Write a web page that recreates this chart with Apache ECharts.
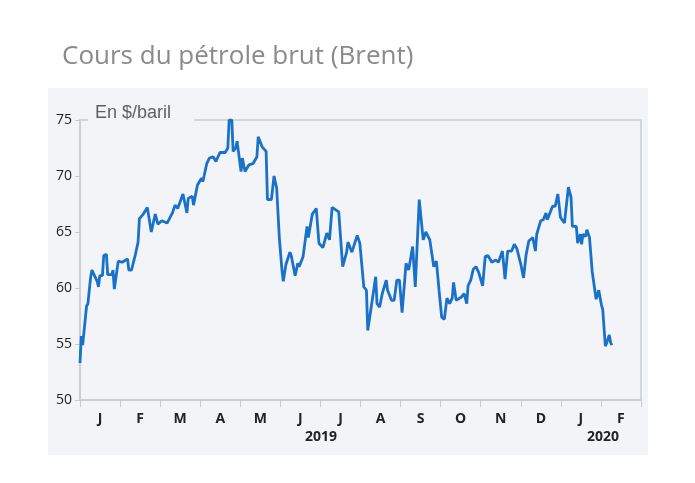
<!DOCTYPE html>
<html><head><meta charset="utf-8">
<script src="https://cdn.jsdelivr.net/npm/echarts@6/dist/echarts.min.js"></script>
<style>html,body{margin:0;padding:0;background:#fff}#c{width:695px;height:483px}</style>
</head><body><div id="c"></div>
<script>
var monthLabels = ['J','F','M','A','M','J','J','A','S','O','N','D','J','F'];
var yearLabels = ['2019','2020'];
// days since 2019-01-01
var days = [0,1,2,5,6,8,9,13,14,15,17,18,20,21,24,25,26,28,29,32,36,37,39,42,44,45,48,51,52,54,57,59,62,66,70,72,74,78,81,82,85,86,89,92,93,94,96,98,101,103,106,110,112,113,115,116,118,119,122,123,125,128,131,134,135,138,141,142,145,147,149,151,153,154,156,159,160,163,165,166,169,172,173,176,179,181,184,187,189,191,196,199,202,203,206,210,212,215,217,218,221,222,224,225,227,229,232,233,236,238,240,242,244,247,249,252,254,255,257,260,262,265,268,270,272,274,276,278,280,282,283,285,289,291,293,294,296,298,300,302,305,307,309,312,315,317,320,322,324,327,329,331,334,336,338,340,343,345,346,349,351,353,354,358,360,362,364,367,370,372,373,376,377,379,380,381,383,384,386,388,391,393,395,396,398,399,401,402,403];
var prices = [53.3,55.7,54.9,58.4,58.6,60.9,61.6,60.6,60.1,61.1,61.1,62.9,63.0,61.2,61.2,61.6,59.9,61.6,62.4,62.3,62.6,61.6,61.6,63.0,64.1,66.2,66.6,67.2,67.3,65.0,66.6,65.7,66.0,65.8,66.7,67.4,67.1,68.4,66.7,68.0,68.2,67.4,69.2,69.8,69.5,70.0,71.1,71.6,71.7,71.3,72.1,72.1,72.5,75.0,75.0,72.2,72.5,73.1,70.4,71.6,70.4,71.0,71.1,71.7,73.5,72.6,72.2,67.9,67.9,70.0,68.9,64.5,61.6,60.6,62.1,63.2,62.9,61.1,62.2,61.9,62.8,65.5,64.5,66.6,67.1,64.0,63.6,64.9,64.3,67.2,66.8,61.9,63.2,64.1,63.2,64.7,64.0,60.1,59.8,56.2,58.6,58.6,61.0,58.6,58.3,59.5,60.7,59.8,58.9,58.9,60.7,60.7,57.8,62.2,61.6,63.7,60.1,60.2,67.9,64.3,65.0,64.3,61.9,62.4,59.8,57.4,57.2,59.1,58.6,59.1,60.5,58.9,59.2,59.5,58.6,60.2,60.7,61.7,61.9,61.4,60.2,62.8,62.9,62.3,62.5,62.3,63.3,60.8,63.3,63.3,63.9,63.5,62.1,60.9,63.0,64.2,64.5,63.3,64.8,66.0,66.1,66.7,66.1,67.3,67.3,68.4,66.3,65.8,69.0,68.1,65.5,65.5,64.0,64.8,63.9,64.8,64.6,65.2,64.5,61.5,59.0,59.8,58.5,58.1,54.8,55.1,55.8,55.1,54.9];
var yTicks = [50,55,60,65,70,75];

var base = Date.UTC(2019,0,1);
var data = days.map(function(d,i){return [base + d*86400000, prices[i]];});
var chart = echarts.init(document.getElementById('c'));
var gray = '#7a7a7a';
chart.setOption({
  backgroundColor:'#fff',
  animation:false,
  graphic:[
    {type:'rect',left:48,top:88,shape:{width:600,height:367},style:{fill:'#f3f4f8'},z:-10},
    {type:'text',left:62,top:44,style:{text:'Cours du pétrole brut (Brent)',fill:'#8a8a8a',font:'26px "Open Sans", sans-serif'}},
    {type:'rect',left:88,top:104,shape:{width:106,height:24},style:{fill:'#f3f4f8'},z:50},
    {type:'text',left:95,top:104,z:51,style:{text:'En $/baril',fill:'#5f5f5f',font:'18px "Liberation Sans", Arial, sans-serif'}},
    {type:'text',x:321,y:430,style:{text:yearLabels[0],fill:'#222',align:'center',font:'bold 14px "Open Sans", sans-serif'}},
    {type:'text',x:603,y:430,style:{text:yearLabels[1],fill:'#222',align:'center',font:'bold 14px "Open Sans", sans-serif'}}
  ],
  grid:{left:80,top:120,right:54,bottom:83,show:true,borderColor:'#c9cbd0',borderWidth:1.5,backgroundColor:'transparent'},
  xAxis:[
    {type:'time',min:base,max:Date.UTC(2020,2,1),show:false},
    {type:'category',data:monthLabels,position:'bottom',boundaryGap:true,
     axisLine:{show:true,lineStyle:{color:'#c9cbd0',width:1.5}},
     axisTick:{show:true,length:7,lineStyle:{color:'#c9cbd0'}},
     axisLabel:{color:'#222',fontSize:14,fontWeight:'bold',margin:12,fontFamily:'"Open Sans", sans-serif'},
     splitLine:{show:false}}
  ],
  yAxis:{type:'value',min:yTicks[0],max:yTicks[yTicks.length-1],interval:5,
    axisLine:{show:true,lineStyle:{color:'#c9cbd0',width:1.5}},
    axisTick:{show:true,length:5,lineStyle:{color:'#c9cbd0'}},
    axisLabel:{color:'#222',fontSize:14,margin:8,fontFamily:'"Open Sans", sans-serif'},
    splitLine:{show:false}},
  series:[{type:'line',xAxisIndex:0,data:data,showSymbol:false,
    lineStyle:{color:'#1a72c8',width:2.8},itemStyle:{color:'#1a72c8'}}]
});
</script></body></html>
